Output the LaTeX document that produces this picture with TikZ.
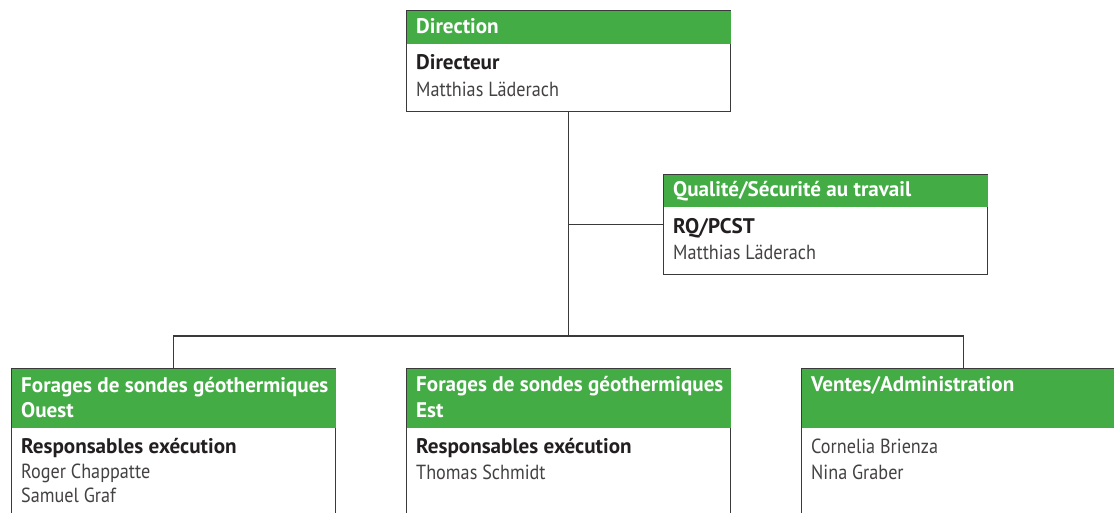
\documentclass[tikz,border=0pt]{standalone}
\usepackage{fontspec}
\setmainfont{PT Sans}
\newfontfamily\namefont{PT Sans}[FakeStretch=0.89]
\definecolor{hdgreen}{HTML}{43AC45}
\definecolor{linegray}{HTML}{3A3A3A}
\definecolor{txt}{HTML}{231F20}
\begin{document}
\begin{tikzpicture}[x=1bp,y=-1bp,
  box/.style={draw=linegray,line width=1.4bp,fill=white,rectangle,inner sep=0,anchor=north west,minimum width=324bp},
  hdfill/.style={fill=hdgreen},
  conn/.style={draw=linegray,line width=1.4bp},
  hd/.style={anchor=base west,inner sep=0,text=white,font=\fontsize{21.2}{24}\selectfont\bfseries},
  ti/.style={anchor=base west,inner sep=0,text=txt,font=\fontsize{21.2}{24}\selectfont\bfseries},
  nm/.style={anchor=base west,inner sep=0,text=txt!85,font=\namefont\fontsize{20.5}{24}\selectfont}
]
\useasboundingbox (0,0) rectangle (1114,513);
\clip (0,0) rectangle (1114,513);
% boxes
\node[box,minimum height=101bp] (dir) at (406,10) {};
\node[box,minimum height=100bp] (qual) at (663,174) {};
\node[box,minimum height=170bp] (west) at (11,368) {};
\node[box,minimum height=170bp] (mid) at (406,368) {};
\node[box,minimum height=170bp] (east) at (801,368) {};
% headers
\fill[hdfill] ([shift={(0.7,0.7)}]dir.north west) rectangle ([shift={(-0.7,34)}]dir.north east);
\fill[hdfill] ([shift={(0.7,0.7)}]qual.north west) rectangle ([shift={(-0.7,33)}]qual.north east);
\fill[hdfill] ([shift={(0.7,0.7)}]west.north west) rectangle ([shift={(-0.7,60)}]west.north east);
\fill[hdfill] ([shift={(0.7,0.7)}]mid.north west) rectangle ([shift={(-0.7,60)}]mid.north east);
\fill[hdfill] ([shift={(0.7,0.7)}]east.north west) rectangle ([shift={(-0.7,60)}]east.north east);
% connectors
\coordinate (hub) at (dir.south |- 0,336);
\draw[conn] (dir.south) -- (hub);
\draw[conn] (dir.south |- qual.west) -- (qual.west);
\draw[conn] (west.north) -- ++(0,-32) -| (east.north);
% texts
\node[hd] (t1) at (416,34) {Direction};
\node[ti] (t2) at (416,70) {Directeur};
\node[nm] (t3) at (416,97) {Matthias Läderach};
\node[hd] (t4) at (673,197) {Qualité/Sécurité au travail};
\node[ti] (t5) at (673,234) {RQ/PCST};
\node[nm] (t6) at (673,260) {Matthias Läderach};
\node[hd] (t7) at (21,392) {Forages de sondes géothermiques};
\node[hd] (t8) at (21,417) {Ouest};
\node[ti] (t9) at (21,453) {Responsables exécution};
\node[nm] (t10) at (21,478) {Roger Chappatte};
\node[nm] (t11) at (21,502) {Samuel Graf};
\node[hd] (t12) at (416,391) {Forages de sondes géothermiques};
\node[hd] (t13) at (416,417) {Est};
\node[ti] (t14) at (416,453) {Responsables exécution};
\node[nm] (t15) at (416,479) {Thomas Schmidt};
\node[hd] (t16) at (811,391) {Ventes/Administration};
\node[nm] (t17) at (811,453) {Cornelia Brienza};
\node[nm] (t18) at (811,479) {Nina Graber};
\end{tikzpicture}
\end{document}
